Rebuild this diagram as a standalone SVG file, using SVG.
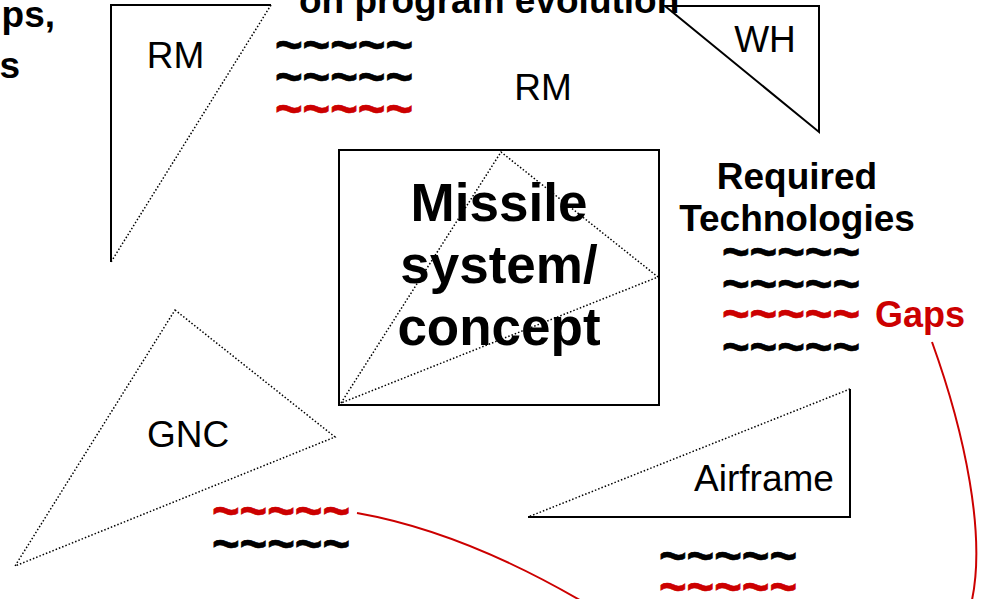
<svg xmlns="http://www.w3.org/2000/svg" width="982" height="599" viewBox="0 0 982 599">
<style>
text{font-family:"Liberation Sans",Arial,sans-serif;fill:#000}
.b{font-weight:bold}
.lbl{font-size:37px;text-anchor:middle}
.t{font-size:48px;font-weight:bold;stroke:#000;stroke-width:0.7}
.t.red{stroke:#CC0000}
.red{fill:#CC0000}
.solid{fill:none;stroke:#000;stroke-width:2}
.dot{fill:none;stroke:#000;stroke-width:1.5;stroke-dasharray:1.5 2}
.conn{fill:none;stroke:#CC0000;stroke-width:2}
</style>
<rect width="982" height="599" fill="#fff"/>

<g id="title">
<text class="b" x="299" y="13" font-size="37">on program evolution</text>
<text class="b" x="55" y="27" font-size="37" text-anchor="end">ps,</text>
<text class="b" x="20" y="78" font-size="37" text-anchor="end">s</text>
</g>

<g id="rm-top">
<path class="solid" d="M271,5 H111 V262"/>
<path class="dot" d="M271,5 L111,262"/>
<text class="lbl" x="175.5" y="68">RM</text>
</g>

<g id="rm-list">
<text class="t" x="275" y="61" textLength="138" lengthAdjust="spacingAndGlyphs">~~~~~</text>
<text class="t" x="275" y="93" textLength="138" lengthAdjust="spacingAndGlyphs">~~~~~</text>
<text class="t red" x="275" y="125" textLength="138" lengthAdjust="spacingAndGlyphs">~~~~~</text>
<text class="lbl" x="543" y="100">RM</text>
</g>

<g id="wh">
<path class="solid" d="M665,6 H819 V132 Z"/>
<text class="lbl" x="765" y="52">WH</text>
</g>

<g id="missile">
<rect class="solid" x="339" y="150" width="320" height="255"/>
<path class="dot" d="M341,403 L501,152 L658,277 Z"/>
<text class="b" x="499" y="221" font-size="53" text-anchor="middle">Missile</text>
<text class="b" x="499" y="283" font-size="53" text-anchor="middle">system/</text>
<text class="b" x="499" y="345" font-size="53" text-anchor="middle">concept</text>
</g>

<g id="required">
<text class="b" x="797" y="189" font-size="37" text-anchor="middle">Required</text>
<text class="b" x="797" y="231" font-size="37" text-anchor="middle">Technologies</text>
<text class="t" x="722" y="268" textLength="138" lengthAdjust="spacingAndGlyphs">~~~~~</text>
<text class="t" x="722" y="300" textLength="138" lengthAdjust="spacingAndGlyphs">~~~~~</text>
<text class="t red" x="722" y="330" textLength="138" lengthAdjust="spacingAndGlyphs">~~~~~</text>
<text class="t" x="722" y="363" textLength="138" lengthAdjust="spacingAndGlyphs">~~~~~</text>
<text class="b red" x="875" y="327" font-size="36">Gaps</text>
</g>

<g id="gnc">
<path class="dot" d="M175,310 L335,437 L15,566 Z"/>
<text class="lbl" x="188" y="447">GNC</text>
<text class="t red" x="212" y="527" textLength="138" lengthAdjust="spacingAndGlyphs">~~~~~</text>
<text class="t" x="212" y="560" textLength="138" lengthAdjust="spacingAndGlyphs">~~~~~</text>
</g>

<g id="airframe">
<path class="solid" d="M528,517 H850 V389"/>
<path class="dot" d="M850,389 L528,517"/>
<text class="lbl" x="764" y="491">Airframe</text>
<text class="t" x="659" y="572" textLength="138" lengthAdjust="spacingAndGlyphs">~~~~~</text>
<text class="t red" x="659" y="603" textLength="138" lengthAdjust="spacingAndGlyphs">~~~~~</text>
</g>

<g id="connectors">
<path class="conn" d="M357,513 Q470,533 600,612"/>
<path class="conn" d="M932,342 C962,425 990,540 969,612"/>
</g>
</svg>
